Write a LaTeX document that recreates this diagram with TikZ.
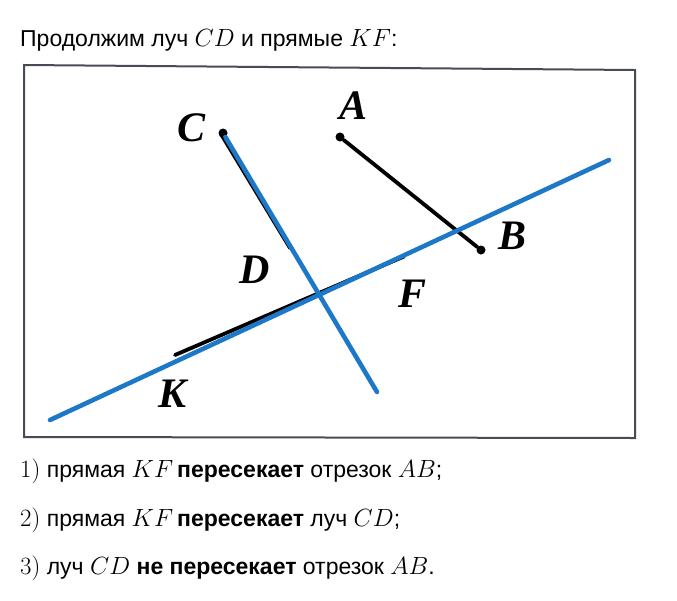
\documentclass[tikz,border=0pt]{standalone}
\usepackage{fontspec}
\setmainfont{Liberation Sans}
\newfontfamily\lblfont{Liberation Serif}
\definecolor{lineblue}{RGB}{30,120,200}
\definecolor{framegray}{RGB}{70,75,85}
\newcommand{\mth}[1]{{\fontsize{27}{27}\selectfont$#1$}}
\begin{document}
\begin{tikzpicture}[x=1pt,y=-1pt,
  txt/.style={anchor=base west,inner sep=0pt,font=\fontsize{23}{27}\selectfont},
  lbl/.style={inner sep=0pt,font=\fontsize{42}{44}\selectfont\lblfont\bfseries\itshape},
  blueline/.style={draw=lineblue,line width=4.6pt,line cap=round},
  blackline/.style={draw=black,line width=3.8pt,line cap=round},
  dotstyle/.style={circle,fill=black,inner sep=0pt,minimum size=9pt}]
\useasboundingbox (0,0) rectangle (677,600);
% header
\node[txt] (head) at (20,46) {Продолжим луч \mth{CD} и прямые \mth{KF}:};
% frame
\coordinate (f1) at (24,65);
\coordinate (f2) at (635,70);
\coordinate (f3) at (635,438);
\coordinate (f4) at (24,437);
\draw[framegray,line width=2pt] (f1) -- (f2) -- (f3) -- (f4) -- cycle;
% points
\node[dotstyle] (C) at (223,133) {};
\node[dotstyle] (A) at (340,137) {};
\node[dotstyle] (B) at (481,250) {};
\coordinate (Kend) at (50,420);
\coordinate (Fend) at (609,160);
\coordinate (CDend) at (377,392);
\coordinate (Kb) at (175,355);
\coordinate (Fb) at (404,256.5);
\coordinate (Cb) at (221,134);
\coordinate (Db) at (290,248);
% black original segments
\draw[blackline] (A) -- (B);
\draw[blackline] (Kb) -- (Fb);
\draw[blackline] (Cb) -- (Db);
% blue extensions
\draw[blueline] (Kend) -- (Fend);
\draw[blueline] (C) -- (CDend);
% labels
\node[lbl] (lC) at (192,128) {C};
\node[lbl] (lA) at (354,106) {A};
\node[lbl] (lB) at (513,236) {B};
\node[lbl] (lD) at (255,270) {D};
\node[lbl] (lF) at (413,294) {F};
\node[lbl] (lK) at (173,394) {K};
% statements
\node[txt] (s1) at (20,477) {\mth{1)} прямая \mth{KF}\,\textbf{пересекает} отрезок \mth{AB};};
\node[txt] (s2) at (20,526) {\mth{2)} прямая \mth{KF}\,\textbf{пересекает} луч \mth{CD};};
\node[txt] (s3) at (20,574) {\mth{3)} луч \mth{CD} \textbf{не пересекает} отрезок \mth{AB}.};
\end{tikzpicture}
\end{document}
